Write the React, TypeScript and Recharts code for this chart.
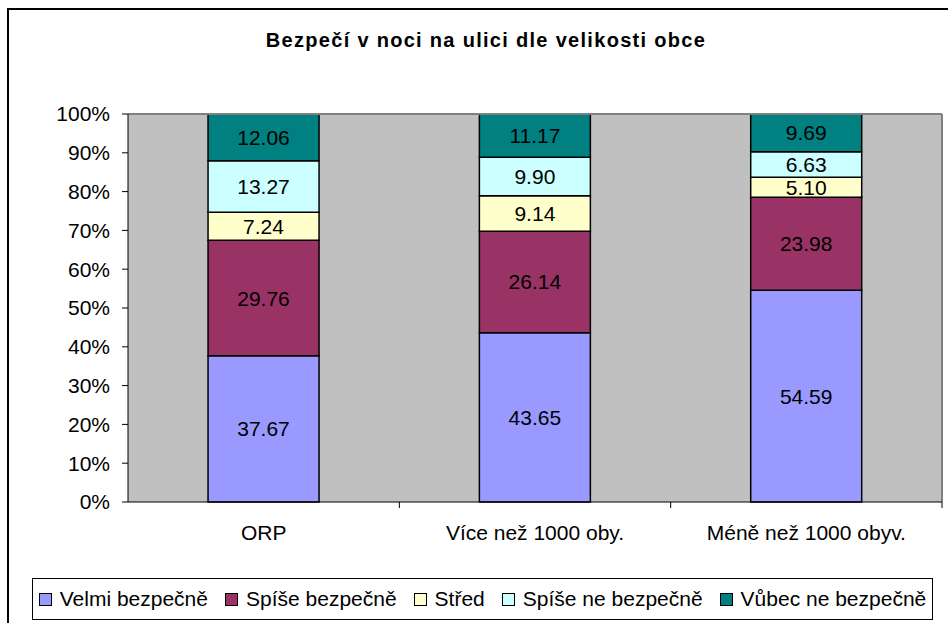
import React from "react"
import { Bar, BarChart, XAxis, YAxis, CartesianGrid, LabelList, ReferenceLine } from "recharts"

const categories = ["ORP", "Více než 1000 oby.", "Méně než 1000 obyv."]

const velmi = [37.67, 43.65, 54.59]
const spise = [29.76, 26.14, 23.98]
const stred = [7.24, 9.14, 5.1]
const spiseNe = [13.27, 9.9, 6.63]
const vubecNe = [12.06, 11.17, 9.69]

const yTicks = [0, 10, 20, 30, 40, 50, 60, 70, 80, 90, 100]

const series = [
  { key: "velmi", name: "Velmi bezpečně", color: "#9999FF" },
  { key: "spise", name: "Spíše bezpečně", color: "#993366" },
  { key: "stred", name: "Střed", color: "#FFFFCC" },
  { key: "spiseNe", name: "Spíše ne bezpečně", color: "#CCFFFF" },
  { key: "vubecNe", name: "Vůbec ne bezpečně", color: "#008080" },
]

const data = categories.map((name, i) => ({
  name,
  pos: i + 0.5,
  velmi: velmi[i],
  spise: spise[i],
  stred: stred[i],
  spiseNe: spiseNe[i],
  vubecNe: vubecNe[i],
}))

const FONT = "'Liberation Sans', Arial, sans-serif"

// numeric x axis: whole values get a tick mark, half values get the category label
function BottomTick(props: any) {
  const { x, y, payload } = props
  const v = payload.value
  if (Number.isInteger(v)) {
    if (v === 0) return null
    return <line x1={x} x2={x} y1={y - 8} y2={y - 2} stroke="#000" strokeWidth={1} />
  }
  const label = categories[Math.floor(v)]
  return (
    <text x={x} y={y + 30} textAnchor="middle" fontSize={21} fontFamily={FONT} fill="#000">
      {label}
    </text>
  )
}

export default function App() {
  return (
    <div style={{ position: "absolute", left: 0, top: 0, width: 948, height: 623, overflow: "hidden", background: "#fff" }}>
      <style>{`body{margin:0}`}</style>
      <div
        style={{
          position: "absolute",
          left: 7,
          top: 8,
          width: 960,
          height: 640,
          border: "2px solid #000",
          boxSizing: "border-box",
        }}
      />
      <div
        style={{
          position: "absolute",
          left: 0,
          top: 29,
          width: 972,
          textAlign: "center",
          fontFamily: FONT,
          fontWeight: "bold",
          fontSize: 20,
          letterSpacing: 1.3,
          color: "#000",
        }}
      >
        Bezpečí v noci na ulici dle velikosti obce
      </div>
      <div style={{ position: "absolute", left: 0, top: 0 }}>
        <BarChart
          width={948}
          height={623}
          data={data}
          margin={{ top: 114, right: 6, left: 8, bottom: 81 }}
          barCategoryGap="29.5%"
        >
          <CartesianGrid horizontal={false} vertical={false} fill="#C0C0C0" />
          <XAxis xAxisId="cat" dataKey="name" hide height={0} />
          <XAxis
            xAxisId="num"
            dataKey="pos"
            type="number"
            domain={[0, 3]}
            allowDataOverflow
            ticks={[0, 0.5, 1, 1.5, 2, 2.5, 3]}
            interval={0}
            height={40}
            tick={<BottomTick />}
            tickLine={false}
            axisLine={{ stroke: "#000" }}
          />
          <YAxis
            type="number"
            domain={[0, 100]}
            ticks={yTicks}
            width={120}
            tickSize={6}
            tickMargin={12}
            tickLine={{ stroke: "#000" }}
            axisLine={{ stroke: "#000" }}
            tickFormatter={(v) => `${v}%`}
            tick={{ fontSize: 21, fontFamily: FONT, fill: "#000" }}
            interval={0}
          />
          <ReferenceLine y={100} stroke="#808080" strokeWidth={2} />
          <ReferenceLine xAxisId="num" x={3} stroke="#808080" strokeWidth={2} />
          {series.map((s) => (
            <Bar
              key={s.key}
              xAxisId="cat"
              dataKey={s.key}
              name={s.name}
              stackId="a"
              fill={s.color}
              stroke="#000"
              strokeWidth={1.5}
              isAnimationActive={false}
            >
              <LabelList
                dataKey={s.key}
                position="center"
                formatter={(v: any) => Number(v).toFixed(2)}
                style={{ fontSize: 21, fontFamily: FONT, fill: "#000" }}
              />
            </Bar>
          ))}
        </BarChart>
      </div>
      <div
        style={{
          position: "absolute",
          left: 32,
          top: 578,
          width: 901,
          height: 42,
          border: "1px solid #000",
          boxSizing: "border-box",
          display: "flex",
          alignItems: "center",
          justifyContent: "center",
          gap: 17,
          fontFamily: FONT,
          fontSize: 21,
          background: "#fff",
        }}
      >
        {series.map((s) => (
          <div key={s.key} style={{ display: "flex", alignItems: "center", whiteSpace: "nowrap" }}>
            <span
              style={{
                display: "inline-block",
                width: 11,
                height: 11,
                background: s.color,
                border: "1px solid #000",
                marginRight: 8,
              }}
            />
            {s.name}
          </div>
        ))}
      </div>
    </div>
  )
}
